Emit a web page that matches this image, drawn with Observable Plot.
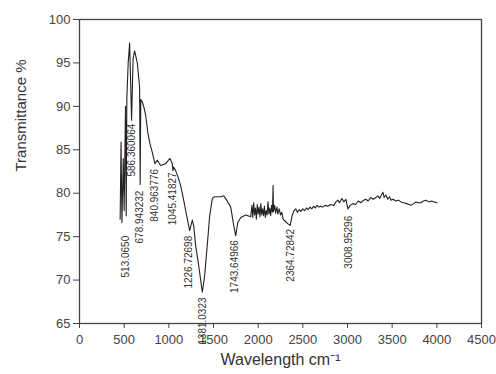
<!DOCTYPE html>
<html>
<head>
<meta charset="utf-8">
<script src="https://cdn.jsdelivr.net/npm/d3@7"></script>
<script src="https://cdn.jsdelivr.net/npm/@observablehq/plot@0.6"></script>
<style>
  html, body { margin: 0; padding: 0; background: #fff; }
  svg { font-family: "Liberation Sans", Arial, sans-serif; }
</style>
</head>
<body>
<div id="chart"></div>
<script>
// Spectrum (wavenumber cm-1, transmittance %)
const wavenumber = [455,465,475,490,500,515,523,530,545,561,572,583,600,617,647,673,679,686,703,721,740,766,789,815,844,871,908,964,1013,1039,1046,1055,1076,1099,1132,1166,1200,1233,1263,1278,1300,1334,1375,1401,1435,1457,1487,1513,1581,1615,1648,1693,1726,1749,1771,1805,1861,1917,
  1930,1940,1950,1960,1970,1980,1990,2000,2010,2020,2030,2040,2050,2060,2070,2080,2090,2100,2110,2120,2130,2140,2150,2160,2167,2172,2185,2195,2210,2220,2235,2250,2265,2280,2300,2330,2358,2380,2400,2420,2440,2460,2478,2500,2520,2540,2560,2580,2600,2620,2640,2660,2680,2700,2720,2750,2780,2810,2848,2870,2892,2910,2937,2960,2982,3005,3030,3060,3090,3120,3150,3180,3206,3230,3260,3290,3318,3340,3360,3380,3397,3410,3430,3450,3470,3487,3510,3540,3570,3599,3630,3660,3690,3711,3740,3767,3790,3820,3850,3879,3910,3940,3969,4002];
const transmittance = [77.0,85.9,76.6,84.0,78.0,90.0,77.4,91.0,95.0,97.3,93.0,88.4,95.5,96.4,95.0,92.2,81.0,90.8,90.5,89.9,89.0,86.9,85.7,84.7,83.4,83.8,83.2,83.4,84.0,83.4,82.6,83.0,82.6,82.0,80.9,79.2,77.4,75.7,76.9,76.3,74.0,71.7,68.6,70.5,74.6,77.4,79.4,79.6,79.6,79.7,79.2,78.4,76.3,75.1,76.6,77.2,77.5,77.3,
  78.6,77.2,78.9,77.5,78.3,77.0,78.7,77.6,78.4,77.3,78.8,77.5,78.2,77.4,78.5,77.2,78.0,77.5,79.0,77.6,78.3,77.4,78.6,77.8,80.9,77.9,78.6,77.7,78.4,77.6,78.2,77.5,77.8,77.0,76.8,76.5,76.3,77.4,78.0,78.2,77.8,78.1,77.9,78.2,78.0,78.3,78.1,78.4,78.2,78.5,78.3,78.6,78.4,78.5,78.4,78.6,78.5,78.7,78.6,79.0,79.2,78.9,79.4,79.0,79.3,78.2,78.6,78.8,78.7,79.1,78.9,79.2,79.3,79.1,79.5,79.3,79.5,79.7,79.4,79.8,80.1,79.5,79.8,79.3,79.6,79.2,79.3,79.1,79.2,79.0,78.9,78.8,78.7,78.6,78.8,79.0,78.9,78.9,79.1,79.2,79.0,79.1,79.0,78.9];

// Peak annotations
const peakPositions = [513.0650, 586.360064, 678.943232, 840.963776, 1045.41827, 1226.72698, 1381.0323, 1743.64966, 2364.72842, 3008.95296];
const peakLabels = ["513.0650", "586.360064", "678.943232", "840.963776", "1045.41827", "1226.72698", "1381.0323", "1743.64966", "2364.72842", "3008.95296"];
const peakLabelTop = [75.1, 88.0, 80.3, 82.8, 82.4, 75.1, 68.0, 74.6, 75.9, 77.4];

const xTicks = [0, 500, 1000, 1500, 2000, 2500, 3000, 3500, 4000, 4500];
const yTicks = [65, 70, 75, 80, 85, 90, 95, 100];

const spectrum = wavenumber.map((w, i) => ({w, t: transmittance[i]}));
const peaks = peakPositions.map((p, i) => ({p, label: peakLabels[i], top: peakLabelTop[i]}));

const chart = Plot.plot({
  width: 496,
  height: 374,
  marginLeft: 79,
  marginRight: 15,
  marginTop: 19,
  marginBottom: 51,
  style: {fontFamily: "'Liberation Sans', Arial, sans-serif", color: "#333", background: "#fff"},
  x: {domain: [0, 4500]},
  y: {domain: [65, 100]},
  marks: [
    Plot.frame({stroke: "#444", strokeWidth: 1.3}),
    Plot.axisY({ticks: yTicks, tickSize: 6, tickPadding: 3, fontSize: 13, label: null, tickFormat: d => String(d), stroke: "#444", fill: "#444"}),
    Plot.axisX({ticks: xTicks, tickSize: 5, tickPadding: 6, fontSize: 13, label: null, tickFormat: d => String(d), stroke: "#444", fill: "#444"}),
    Plot.text(["Transmittance %"], {frameAnchor: "left", dx: -58, rotate: -90, fontSize: 15, fill: "#333", fontFamily: "'Liberation Sans', Arial, sans-serif"}),
    Plot.text(["Wavelength cm\u207B\u00B9"], {frameAnchor: "bottom", dy: 41, fontSize: 16, fill: "#333", fontFamily: "'Liberation Sans', Arial, sans-serif"}),
    Plot.line(spectrum, {x: "w", y: "t", stroke: "#222", strokeWidth: 1.1}),
    Plot.text(peaks, {x: "p", y: "top", text: "label", rotate: -90, textAnchor: "end", fontSize: 10, fill: "#333", fontFamily: "'Liberation Sans', Arial, sans-serif"})
  ]
});
document.getElementById("chart").appendChild(chart);
</script>
</body>
</html>
